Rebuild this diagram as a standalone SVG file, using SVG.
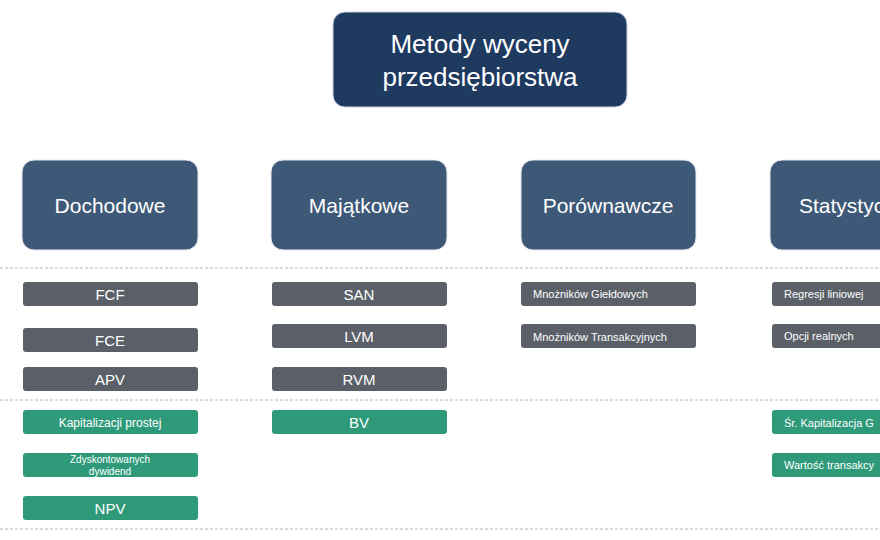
<svg xmlns="http://www.w3.org/2000/svg" width="880" height="540" viewBox="0 0 880 540">
<style>
text{font-family:"Liberation Sans",Arial,sans-serif;fill:#fff}
.cat{fill:#3e5878;stroke:#e6eaf0;stroke-width:1}
.g{fill:#5a5f68}
.gr{fill:#2e9a7a}
.sep{stroke:#b8b8b8;stroke-width:1;stroke-dasharray:3,2}
.big{font-size:21px;text-anchor:middle}
.m{font-size:15px;text-anchor:middle}
.s{font-size:11px}
</style>
<rect width="880" height="540" fill="#fff"/>
<g id="connectors">
<line class="sep" x1="0" y1="268" x2="880" y2="268"/>
<line class="sep" x1="0" y1="400" x2="880" y2="400"/>
<line class="sep" x1="0" y1="529" x2="880" y2="529"/>
</g>
<g id="title"><rect x="333" y="12" width="294" height="95" rx="12" fill="#1f3a5f" stroke="#c9d3e0"/>
<text class="big" x="480" y="53" style="font-size:26px">Metody wyceny</text><text class="big" x="480" y="86" style="font-size:26px">przedsiębiorstwa</text></g>
<g id="dochodowe"><rect class="cat" x="22" y="160" width="176" height="90" rx="12"/><text class="big" x="110" y="213">Dochodowe</text></g>
<g id="majatkowe"><rect class="cat" x="271" y="160" width="176" height="90" rx="12"/><text class="big" x="359" y="213">Majątkowe</text></g>
<g id="porownawcze"><rect class="cat" x="521" y="160" width="175" height="90" rx="12"/><text class="big" x="608" y="213">Porównawcze</text></g>
<g id="statystyczne"><rect class="cat" x="770" y="160" width="176" height="90" rx="12"/><text x="799" y="213" style="font-size:21px">Statystyc</text></g>
<g id="fcf"><rect class="g" x="23" y="282" width="175" height="24" rx="3"/><text class="m" x="110" y="300">FCF</text></g>
<g id="fce"><rect class="g" x="23" y="328" width="175" height="24" rx="3"/><text class="m" x="110" y="346">FCE</text></g>
<g id="apv"><rect class="g" x="23" y="367" width="175" height="24" rx="3"/><text class="m" x="110" y="385">APV</text></g>
<g id="kap"><rect class="gr" x="23" y="410" width="175" height="24" rx="3"/><text class="m" x="110" y="427" style="font-size:12px">Kapitalizacji prostej</text></g>
<g id="zdysk"><rect class="gr" x="23" y="453" width="175" height="24" rx="3"/><text class="m" x="110" y="463" style="font-size:10px">Zdyskontowanych</text><text class="m" x="110" y="475" style="font-size:10px">dywidend</text></g>
<g id="npv"><rect class="gr" x="23" y="496" width="175" height="24" rx="3"/><text class="m" x="110" y="514">NPV</text></g>
<g id="san"><rect class="g" x="272" y="282" width="175" height="24" rx="3"/><text class="m" x="359" y="300">SAN</text></g>
<g id="lvm"><rect class="g" x="272" y="324" width="175" height="24" rx="3"/><text class="m" x="359" y="342">LVM</text></g>
<g id="rvm"><rect class="g" x="272" y="367" width="175" height="24" rx="3"/><text class="m" x="359" y="385">RVM</text></g>
<g id="bv"><rect class="gr" x="272" y="410" width="175" height="24" rx="3"/><text class="m" x="359" y="428">BV</text></g>
<g id="mg"><rect class="g" x="521" y="282" width="175" height="24" rx="3"/><text class="s" x="533" y="298">Mnożników  Giełdowych</text></g>
<g id="mt"><rect class="g" x="521" y="324" width="175" height="24" rx="3"/><text class="s" x="533" y="341">Mnożników  Transakcyjnych</text></g>
<g id="rl"><rect class="g" x="772" y="282" width="175" height="24" rx="3"/><text class="s" x="784" y="298">Regresji  liniowej</text></g>
<g id="or"><rect class="g" x="772" y="324" width="175" height="24" rx="3"/><text class="s" x="784" y="340">Opcji realnych</text></g>
<g id="sk"><rect class="gr" x="772" y="410" width="175" height="24" rx="3"/><text class="s" x="784" y="427">Śr. Kapitalizacja  G</text></g>
<g id="wt"><rect class="gr" x="772" y="453" width="175" height="24" rx="3"/><text class="s" x="784" y="469">Wartość  transakcy</text></g>
</svg>
